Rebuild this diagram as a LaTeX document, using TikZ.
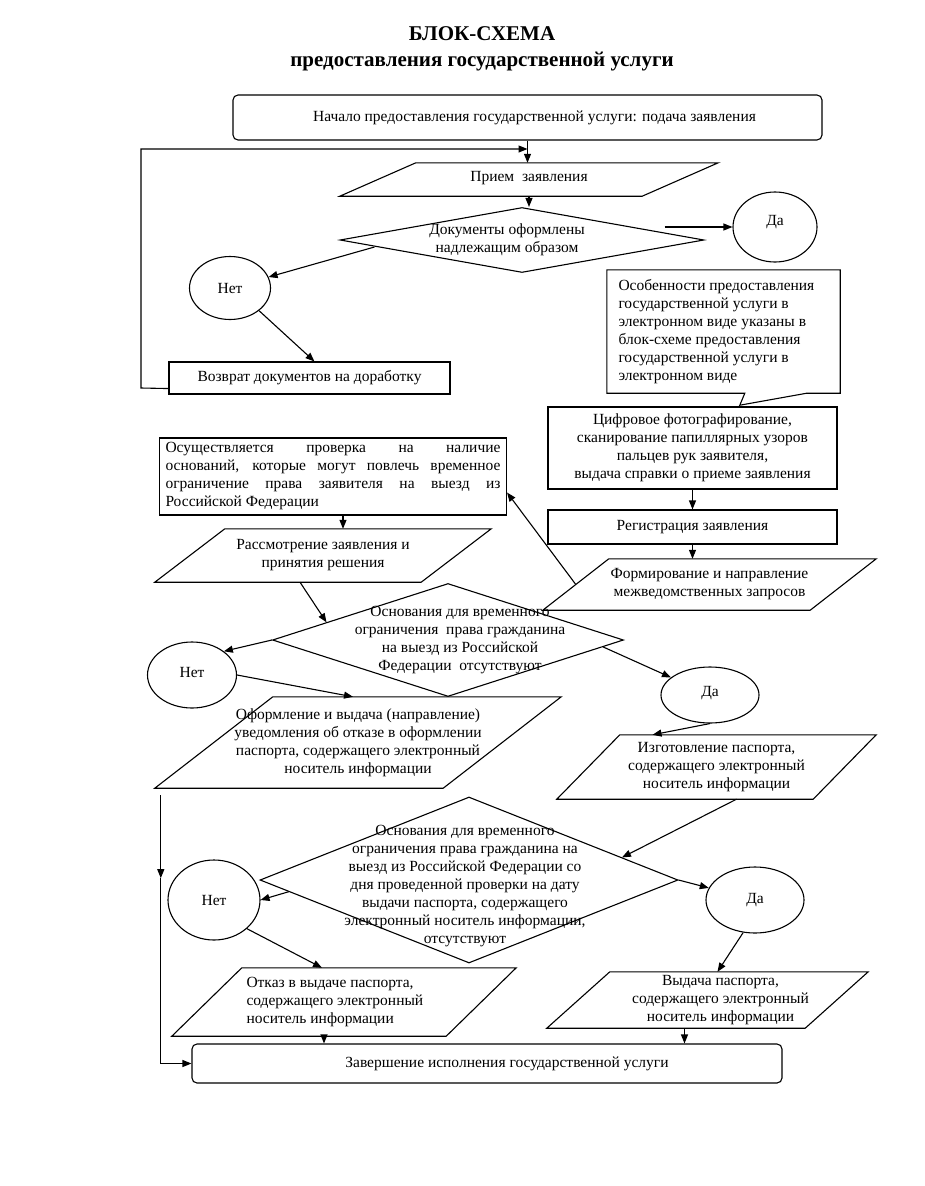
\documentclass[tikz,border=0pt]{standalone}
\usepackage{fontspec}
\setmainfont{Liberation Serif}
\usepackage{tikz}
\usetikzlibrary{positioning}
\usetikzlibrary{calc}
\usetikzlibrary{shapes.geometric, arrows.meta}
\tikzstyle{box} = [rectangle, draw=black, line width=1.1pt, align=center, inner sep=0pt]
\tikzstyle{rbox} = [box, rounded corners=5pt]
\tikzstyle{para} = [rectangle, align=center, inner sep=0pt]
\tikzstyle{decision} = [diamond, draw=black, line width=1.1pt, inner sep=0pt]
\tikzstyle{answer} = [ellipse, draw=black, line width=1.1pt, inner sep=0pt]
\tikzstyle{arrow} = [line width=1.1pt, -{Triangle[length=9pt,width=7pt]}]

\begin{document}
\begin{tikzpicture}[x=1pt, y=-1pt, font=\fontsize{15.5}{18}\selectfont]
    \useasboundingbox (0,0) rectangle (924,1186);

    % --- title ---
    \node[align=center, font=\fontsize{21}{26}\selectfont\bfseries] at (482, 49) (title)
        {БЛОК-СХЕМА\\предоставления государственной услуги};

    % start box
    \node[rbox, minimum width=589pt, minimum height=45pt] at (527.5, 117.5) (start_box)
        {\hspace*{14pt}Начало предоставления государственной услуги: подача заявления};

    % receiving the application
    \node[para, minimum width=302pt, minimum height=33pt] at (529, 179.5) (receive)
        {\raisebox{6pt}{Прием \ заявления}};

    % documents check
    \node[decision, minimum width=364pt, minimum height=65pt,
        label={[align=center, xshift=-15pt]center:Документы оформлены\\надлежащим образом}
    ] at (522, 240) (docs_check) {};

    % yes / no of the documents check
    \node[answer, minimum width=84pt, minimum height=70pt] at (775, 227) (yes_docs) {\raisebox{13pt}{Да}};
    \node[answer, minimum width=81pt, minimum height=63pt] at (230, 288) (no_docs) {Нет};

    % return of the documents
    \node[box, minimum width=281pt, minimum height=32pt] at (309.5, 378) (return_docs)
        {Возврат документов на доработку};

    % note about the electronic service (callout)
    \node[text width=210pt, minimum width=233pt, minimum height=123pt, align=flush left, inner sep=0pt]
        at (723.5, 331.5) (e_note)
        {Особенности предоставления\\государственной услуги в\\электронном виде указаны в\\блок-схеме предоставления\\государственной услуги в\\электронном виде};
    \draw[line width=1.1pt] (e_note.south west) -- (e_note.north west) -- (e_note.north east)
        -- (e_note.south east) -- ($(e_note.south west)+(200,0)$) -- ($(e_note.south west)+(133,12)$)
        -- ($(e_note.south west)+(138,0)$) -- cycle;

    % right column
    \node[box, minimum width=289pt, minimum height=82pt] at (692.5, 448) (photo)
        {Цифровое фотографирование,\\сканирование папиллярных узоров\\пальцев рук заявителя,\\выдача справки о приеме заявления};
    \node[box, minimum width=289pt, minimum height=34pt] at (692.5, 527) (registration)
        {Регистрация заявления};
    \node[para, minimum width=267pt, minimum height=51pt] at (709.5, 584.5) (requests)
        {Формирование и направление\\межведомственных запросов};

    % left column
    \node[box, minimum width=347pt, minimum height=77pt, text width=335pt, align=justify]
        at (333, 476.5) (check_limits)
        {Осуществляется проверка на наличие\linebreak
         оснований, которые могут повлечь временное\linebreak
         ограничение права заявителя на выезд из\linebreak
         Российской Федерации};
    \node[para, minimum width=266pt, minimum height=53pt] at (323, 555.5) (review)
        {Рассмотрение заявления и\\принятия решения};

    % limits check
    \node[decision, minimum width=351pt, minimum height=113pt,
        label={[align=center, xshift=12pt]center:{Основания для временного\\ограничения \ права гражданина\\на выезд из Российской\\Федерации \ отсутствуют}}
    ] at (448, 640) (limit_check) {};
    \node[answer, minimum width=89pt, minimum height=66pt] at (192, 675) (no_limit) {\raisebox{5pt}{Нет}};
    \node[answer, minimum width=98pt, minimum height=56pt] at (710, 695) (yes_limit) {\raisebox{7pt}{Да}};

    \node[para, minimum width=288pt, minimum height=91pt] at (358, 742.5) (refusal_notice)
        {Оформление и выдача (направление)\\уведомления об отказе в оформлении\\паспорта, содержащего электронный\\носитель информации};
    \node[para, minimum width=256pt, minimum height=64pt] at (716.5, 767) (make_passport)
        {Изготовление паспорта,\\содержащего электронный\\носитель информации};

    % final check
    \node[decision, minimum width=418pt, minimum height=166pt,
        label={[align=center, xshift=-4pt, yshift=-6pt]center:{Основания для временного\\ограничения права гражданина на\\выезд из Российской Федерации со\\дня проведенной проверки на дату\\выдачи паспорта, содержащего\\электронный носитель информации,\\отсутствуют}}
    ] at (469, 880) (final_check) {};
    \node[answer, minimum width=92pt, minimum height=80pt] at (214, 900) (no_final) {Нет};
    \node[answer, minimum width=98pt, minimum height=66pt] at (755, 900) (yes_final) {Да};

    \node[para, minimum width=274pt, minimum height=68pt, text width=195pt, align=flush left]
        at (344, 1002) (refuse_passport)
        {Отказ в выдаче паспорта,\\содержащего электронный\\носитель информации};
    \node[para, minimum width=258pt, minimum height=56pt] at (707.5, 1000) (issue_passport)
        {\hspace*{26pt}\begin{tabular}{@{}c@{}}Выдача паспорта,\\содержащего электронный\\носитель информации\end{tabular}};

    % end box
    \node[rbox, minimum width=590pt, minimum height=39pt] at (487, 1063.5) (end_box)
        {\hspace*{40pt}Завершение исполнения государственной услуги};

    % parallelogram outlines
    \foreach \n/\s in {receive/38, requests/33, review/35, refusal_notice/59,
                       make_passport/31.5, refuse_passport/35, issue_passport/31.5}
        \draw[line width=1.1pt] ([xshift=\s pt]\n.north west) -- ([xshift=\s pt]\n.north east)
            -- ([xshift=-\s pt]\n.south east) -- ([xshift=-\s pt]\n.south west) -- cycle;

    % --- connectors ---
    \coordinate (loop_bottom) at (141, 388);
    \coordinate (loop_top) at (141, 149);
    \draw[arrow] ($(return_docs.south west)+(0,-6)$) -- (loop_bottom) -- (loop_top)
        -- (loop_top -| start_box.south);
    \draw[arrow] (start_box.south) -- (start_box.south |- receive.north);
    \draw[arrow] (receive.south) -- (receive.south |- docs_check.north);
    \draw[arrow] ($(docs_check.east)+(-40,-13)$) -- (yes_docs);
    \draw[arrow] ($(docs_check.west)+(35,7)$) -- (no_docs);
    \draw[arrow] (no_docs.south east) -- ($(return_docs.north west)+(146,0)$);

    \draw[arrow] (photo.south) -- (registration.north);
    \draw[arrow] (registration.south) -- (registration.south |- requests.north);
    \draw[arrow] (requests.west) -- ($(check_limits.east)+(0,16)$);
    \draw[arrow] ($(check_limits.south)+(10,0)$) -- ($(review.north)+(20,0)$);
    \draw[arrow] ($(review.south)+(-23,0)$) -- ($(limit_check.west)!0.31!(limit_check.north)$);

    \draw[arrow] (limit_check.west) -- (no_limit.north east);
    \draw[arrow] (no_limit.east) -- ($(refusal_notice.north)+(-5,0)$);
    \draw[arrow] ($(limit_check.east)!0.12!(limit_check.south)$) -- (yes_limit);
    \draw[arrow] (yes_limit.south) -- ($(make_passport.north)+(-64,0)$);
    \draw[arrow] ($(make_passport.south)+(20,0)$) -- ($(final_check.north)!0.73!(final_check.east)$);

    \draw[arrow] ($(final_check.west)!0.14!(final_check.south)$) -- (no_final.east);
    \draw[arrow] (final_check.east) -- (yes_final);
    \draw[arrow] (no_final.south east) -- ($(refuse_passport.north)+(-22,0)$);
    \draw[arrow] (yes_final.-110) -- ($(issue_passport.north)+(10,0)$);

    \coordinate (refuse_out) at ($(refuse_passport.south)+(-20,0)$);
    \coordinate (issue_out) at ($(issue_passport.south)+(-23,0)$);
    \draw[arrow] (refuse_out) -- (refuse_out |- end_box.north);
    \draw[arrow] (issue_out) -- (issue_out |- end_box.north);

    % long line on the left to the end box
    \coordinate (left_top) at ($(refusal_notice.south west)+(-53,7)$);
    \coordinate (left_mid) at ($(left_top)+(0,83)$);
    \draw[arrow] (left_top) -- (left_mid);
    \draw[arrow] (left_mid) |- (end_box.west);

\end{tikzpicture}
\end{document}
